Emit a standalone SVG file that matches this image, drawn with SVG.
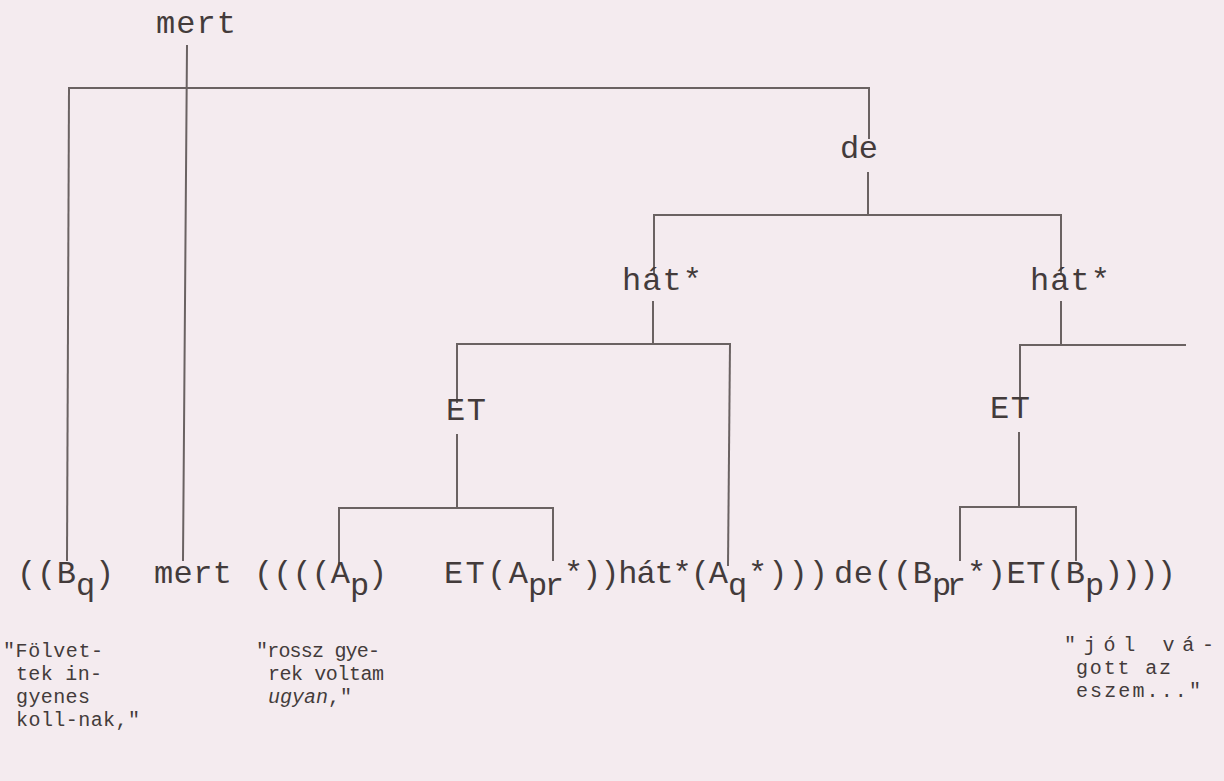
<svg xmlns="http://www.w3.org/2000/svg" width="1224" height="781" viewBox="0 0 1224 781">
<style>
.t{font-family:"Liberation Mono","Courier New",monospace;font-size:32px;fill:#433b3b}
.s{font-family:"Liberation Mono","Courier New",monospace;font-size:20px;fill:#433b3b}
.i{font-style:italic}
.c line{stroke:#6a6262;stroke-width:2;stroke-linecap:square}
</style>
<rect width="1224" height="781" fill="#f4ebef"/>
<g class="c" id="connectors">
<line x1="187" y1="46" x2="183" y2="560"/>
<line x1="69" y1="88" x2="869" y2="88"/>
<line x1="69" y1="88" x2="67" y2="560"/>
<line x1="869" y1="88" x2="869" y2="138"/>
<line x1="868" y1="173" x2="868" y2="215"/>
<line x1="654" y1="215" x2="1061" y2="215"/>
<line x1="654" y1="215" x2="654" y2="273"/>
<line x1="1061" y1="215" x2="1061" y2="273"/>
<line x1="653" y1="302" x2="653" y2="344"/>
<line x1="457" y1="344" x2="730" y2="344"/>
<line x1="457" y1="344" x2="457" y2="402"/>
<line x1="730" y1="344" x2="728" y2="565"/>
<line x1="457" y1="435" x2="457" y2="508"/>
<line x1="339" y1="508" x2="553" y2="508"/>
<line x1="339" y1="508" x2="339" y2="563"/>
<line x1="553" y1="508" x2="553" y2="560"/>
<line x1="1061" y1="302" x2="1061" y2="345"/>
<line x1="1020" y1="345" x2="1185" y2="345"/>
<line x1="1020" y1="345" x2="1020" y2="397"/>
<line x1="1019" y1="433" x2="1019" y2="507"/>
<line x1="960" y1="507" x2="1076" y2="507"/>
<line x1="960" y1="507" x2="960" y2="560"/>
<line x1="1076" y1="507" x2="1076" y2="560"/>
</g>
<g id="node-mert"><text class="t" x="156" y="33" textLength="80" lengthAdjust="spacing">mert</text></g>
<g id="node-de"><text class="t" x="840" y="158" textLength="38" lengthAdjust="spacing">de</text></g>
<g id="node-hat-left"><text class="t" x="622" y="290" textLength="80" lengthAdjust="spacing">hát*</text></g>
<g id="node-hat-right"><text class="t" x="1030" y="290" textLength="80" lengthAdjust="spacing">hát*</text></g>
<g id="node-et-left"><text class="t" x="446" y="420" textLength="40" lengthAdjust="spacing">ET</text></g>
<g id="node-et-right"><text class="t" x="990" y="418" textLength="40" lengthAdjust="spacing">ET</text></g>
<g id="formula">
<text class="t" x="17" y="583" textLength="59" lengthAdjust="spacing">((B</text>
<text class="t" x="76" y="595">q</text>
<text class="t" x="95" y="583">)</text>
<text class="t" x="154" y="583" textLength="78" lengthAdjust="spacing">mert</text>
<text class="t" x="254" y="583" textLength="96" lengthAdjust="spacing">((((A</text>
<text class="t" x="350" y="595">p</text>
<text class="t" x="368" y="583">)</text>
<text class="t" x="444" y="583" textLength="84" lengthAdjust="spacing">ET(A</text>
<text class="t" x="528" y="595" textLength="36" lengthAdjust="spacing">pr</text>
<text class="t" x="564" y="583" textLength="164" lengthAdjust="spacing">*))hát*(A</text>
<text class="t" x="728" y="595">q</text>
<text class="t" x="748" y="583" textLength="80" lengthAdjust="spacing">*)))</text>
<text class="t" x="834" y="583" textLength="98" lengthAdjust="spacing">de((B</text>
<text class="t" x="932" y="595" textLength="34" lengthAdjust="spacing">pr</text>
<text class="t" x="967" y="583" textLength="118" lengthAdjust="spacing">*)ET(B</text>
<text class="t" x="1085" y="595">p</text>
<text class="t" x="1104" y="583" textLength="72" lengthAdjust="spacing">))))</text>
</g>
<g id="label-left">
<text class="s" x="3" y="657" textLength="100" lengthAdjust="spacing">"Fölvet-</text>
<text class="s" x="16" y="680" textLength="86" lengthAdjust="spacing">tek in-</text>
<text class="s" x="16" y="703" textLength="74" lengthAdjust="spacing">gyenes</text>
<text class="s" x="16" y="726" textLength="124" lengthAdjust="spacing">koll-nak,"</text>
</g>
<g id="label-middle">
<text class="s" x="256" y="657" textLength="124" lengthAdjust="spacing">"rossz gye-</text>
<text class="s" x="268" y="680" textLength="116" lengthAdjust="spacing">rek voltam</text>
<text class="s" x="268" y="703"><tspan class="i">ugyan</tspan>,"</text>
</g>
<g id="label-right">
<text class="s" x="1064" y="651" textLength="150" lengthAdjust="spacing">"jól vá-</text>
<text class="s" x="1076" y="674" textLength="95" lengthAdjust="spacing">gott az</text>
<text class="s" x="1076" y="697" textLength="125" lengthAdjust="spacing">eszem..."</text>
</g>
</svg>
